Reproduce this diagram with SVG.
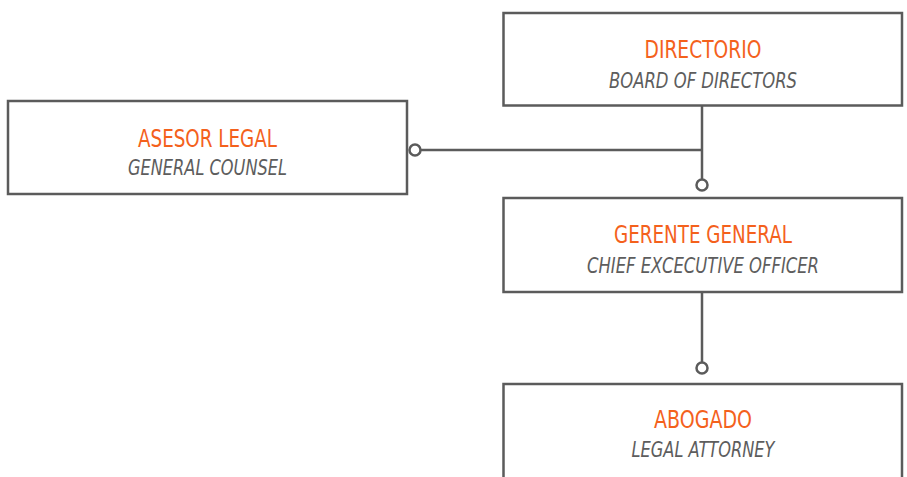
<svg xmlns="http://www.w3.org/2000/svg" width="907" height="477" viewBox="0 0 907 477">
<style>
.box{fill:#fff;stroke:#5b5b5b;stroke-width:2.5}
.t{font-family:"DejaVu Sans Condensed","Liberation Sans",sans-serif;font-size:25px;fill:#f4611c;text-anchor:middle}
.s{font-family:"DejaVu Sans Condensed","Liberation Sans",sans-serif;font-size:21.5px;font-style:italic;fill:#5d5d5d;text-anchor:middle}
.c{fill:none;stroke:#5b5b5b;stroke-width:2.5}
.dot{fill:#fff;stroke:#5b5b5b;stroke-width:2.5}
</style>
<rect width="907" height="477" fill="#fff"/>
<g id="connectors">
<path class="c" d="M702 106V185M415 150H702M702 292V368"/>
<circle class="dot" cx="415" cy="150" r="5.5"/>
<circle class="dot" cx="702" cy="185" r="5.5"/>
<circle class="dot" cx="702" cy="368" r="5.5"/>
</g>
<g id="directorio">
<rect class="box" x="503.5" y="13" width="398.5" height="92.5"/>
<text class="t" x="703" y="58" textLength="117" lengthAdjust="spacingAndGlyphs">DIRECTORIO</text>
<text class="s" x="703" y="88" textLength="188" lengthAdjust="spacingAndGlyphs">BOARD OF DIRECTORS</text>
</g>
<g id="asesor">
<rect class="box" x="8" y="101" width="399" height="93"/>
<text class="t" x="207.5" y="147" textLength="139" lengthAdjust="spacingAndGlyphs">ASESOR LEGAL</text>
<text class="s" x="207.5" y="175" textLength="159" lengthAdjust="spacingAndGlyphs">GENERAL COUNSEL</text>
</g>
<g id="gerente">
<rect class="box" x="503.5" y="198" width="398.5" height="94"/>
<text class="t" x="703" y="243" textLength="178" lengthAdjust="spacingAndGlyphs">GERENTE GENERAL</text>
<text class="s" x="703" y="273" textLength="232" lengthAdjust="spacingAndGlyphs">CHIEF EXCECUTIVE OFFICER</text>
</g>
<g id="abogado">
<rect class="box" x="503.5" y="384" width="398.5" height="100"/>
<text class="t" x="703" y="428" textLength="98" lengthAdjust="spacingAndGlyphs">ABOGADO</text>
<text class="s" x="703" y="457" textLength="143" lengthAdjust="spacingAndGlyphs">LEGAL ATTORNEY</text>
</g>
</svg>
